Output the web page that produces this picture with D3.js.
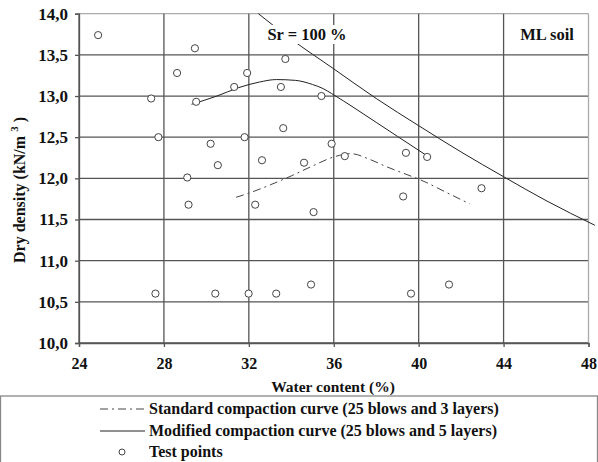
<!DOCTYPE html>
<html><head><meta charset="utf-8">
<script src="https://cdn.jsdelivr.net/npm/d3@7"></script>
<style>body{margin:0;background:#fff}svg{display:block}</style>
</head><body><div id="chart"></div>
<script>
// Test points: water content (%), dry density (kN/m3)
const testW = [24.9,29.46,28.62,27.4,29.52,31.31,31.92,33.72,33.51,33.62,27.74,31.8,30.2,30.54,32.62,29.1,35.42,35.9,36.52,34.6,39.4,40.4,39.27,42.96,29.16,32.3,27.6,30.42,31.99,33.29,35.05,34.93,39.64,41.43];
const testD = [13.74,13.58,13.28,12.97,12.93,13.11,13.28,13.45,13.11,12.61,12.5,12.5,12.42,12.16,12.22,12.01,13.0,12.42,12.27,12.19,12.31,12.26,11.78,11.88,11.68,11.68,10.6,10.6,10.6,10.6,11.59,10.71,10.6,10.71];
// Standard compaction curve
const stdW = [31.4,32,33,34,35,36,36.8,37.7,38.5,39.3,40.1,41.3,42.4];
const stdD = [11.77,11.82,11.92,12.03,12.15,12.26,12.3,12.23,12.14,12.06,11.98,11.83,11.69];
// Modified compaction curve
const modW = [29.3,30.5,31.5,32.5,33.3,34.2,35.0,35.5,35.9,37,38,39,40.3];
const modD = [12.9,13.0,13.1,13.17,13.2,13.19,13.14,13.09,13.03,12.85,12.68,12.51,12.29];
// Saturation line Sr = 100 %
const satW = [32.45,34,36,38,40,42,44,46,48.3];
const satD = [14.0,13.69,13.33,12.97,12.64,12.32,12.02,11.73,11.43];
const xTicks = [24,28,32,36,40,44,48];
const yTicks = [10,10.5,11,11.5,12,12.5,13,13.5,14];
const legendLabels = ["Standard compaction curve (25 blows and 3 layers)","Modified compaction curve (25 blows and 5 layers)","Test points"];

const W = 598, H = 462;
const svg = d3.select("#chart").append("svg").attr("width", W).attr("height", H);
const x = d3.scaleLinear().domain([24,48]).range([79,588.5]);
const y = d3.scaleLinear().domain([10,14]).range([343,13.7]);
const fmt = d => d3.format(".1f")(d).replace(".", ",");
const txt = (sel, size) => sel.attr("font-family", null).style("font-family", '"Liberation Serif"').style("font-weight","bold").style("font-size", size+"px").style("fill","#111");

// grid
svg.append("g").selectAll("line").data(yTicks).join("line")
  .attr("x1", x(24)).attr("x2", x(48)).attr("y1", d=>y(d)).attr("y2", d=>y(d))
  .attr("stroke", d => d===14 ? "#aaa" : "#555").attr("stroke-width", 1.3);
svg.append("g").selectAll("line").data(xTicks).join("line")
  .attr("x1", d=>x(d)).attr("x2", d=>x(d)).attr("y1", y(14)).attr("y2", y(10))
  .attr("stroke", d => d===48 ? "#aaa" : "#555").attr("stroke-width", 1.3);

// axes
const yAxis = svg.append("g").attr("transform", `translate(${x(24)},0)`)
  .call(d3.axisLeft(y).tickValues(yTicks).tickFormat(fmt).tickSize(4).tickPadding(7));
const xAxis = svg.append("g").attr("transform", `translate(0,${y(10)})`)
  .call(d3.axisBottom(x).tickValues(xTicks).tickFormat(d3.format("d")).tickSize(4).tickPadding(11));
yAxis.attr("font-family", null).attr("font-size", null);
xAxis.attr("font-family", null).attr("font-size", null);
[yAxis, xAxis].forEach(g => {
  g.select(".domain").attr("stroke", "#555").attr("stroke-width", 1.3);
  g.selectAll(".tick line").attr("stroke", "#555").attr("stroke-width", 1.3);
});
txt(yAxis.selectAll("text"), 17);
txt(xAxis.selectAll("text"), 16);

// curves
const line = d3.line().x(d=>x(d[0])).y(d=>y(d[1])).curve(d3.curveMonotoneX);
svg.append("path").datum(satW.map((w,i)=>[w,satD[i]])).attr("d", line)
  .attr("fill","none").attr("stroke","#222").attr("stroke-width",1);
svg.append("path").datum(modW.map((w,i)=>[w,modD[i]])).attr("d", line)
  .attr("fill","none").attr("stroke","#222").attr("stroke-width",1);
svg.append("path").datum(stdW.map((w,i)=>[w,stdD[i]])).attr("d", line)
  .attr("fill","none").attr("stroke","#444").attr("stroke-width",1).attr("stroke-dasharray","8,4,2,4");

// points
svg.append("g").selectAll("circle").data(testW.map((w,i)=>[w,testD[i]])).join("circle")
  .attr("cx", d=>x(d[0])).attr("cy", d=>y(d[1])).attr("r", 3.6)
  .attr("fill","#fff").attr("stroke","#444").attr("stroke-width",1);

// annotations
const srBg = svg.append("rect").attr("fill","#fff");
const sr = txt(svg.append("text").attr("x", 307).attr("y", 40).attr("text-anchor","middle"), 16.5).text("Sr = 100 %");
const bb = sr.node().getBBox();
srBg.attr("x", bb.x-3).attr("y", bb.y).attr("width", bb.width+6).attr("height", bb.height);
txt(svg.append("text").attr("x", 547).attr("y", 40).attr("text-anchor","middle"), 16.5).text("ML soil");

// axis titles
txt(svg.append("text").attr("x", 333).attr("y", 392).attr("text-anchor","middle"), 15.5).text("Water content (%)");
const yt = txt(svg.append("text").attr("transform","translate(25,190) rotate(-90)").attr("text-anchor","middle"), 16);
yt.append("tspan").text("Dry density (kN/m ");
yt.append("tspan").style("font-size","11px").attr("dy",-7).text("3");
yt.append("tspan").attr("dy",7).text(" )");

// legend
svg.append("rect").attr("x",0.5).attr("y",396).attr("width",597).attr("height",80).attr("fill","none").attr("stroke","#888").attr("stroke-width",1.3);
const ly = [409, 431, 452];
const lg = svg.append("g");
lg.append("line").attr("x1",100).attr("x2",145).attr("y1",ly[0]).attr("y2",ly[0]).attr("stroke","#444").attr("stroke-dasharray","8,4,2,4");
lg.append("line").attr("x1",100).attr("x2",145).attr("y1",ly[1]).attr("y2",ly[1]).attr("stroke","#222");
lg.append("circle").attr("cx",122).attr("cy",ly[2]).attr("r",3).attr("fill","#fff").attr("stroke","#444");
txt(lg.selectAll("text").data(legendLabels).join("text").attr("x",149).attr("y",(d,i)=>ly[i]+5), 16).text(d=>d);
</script></body></html>
